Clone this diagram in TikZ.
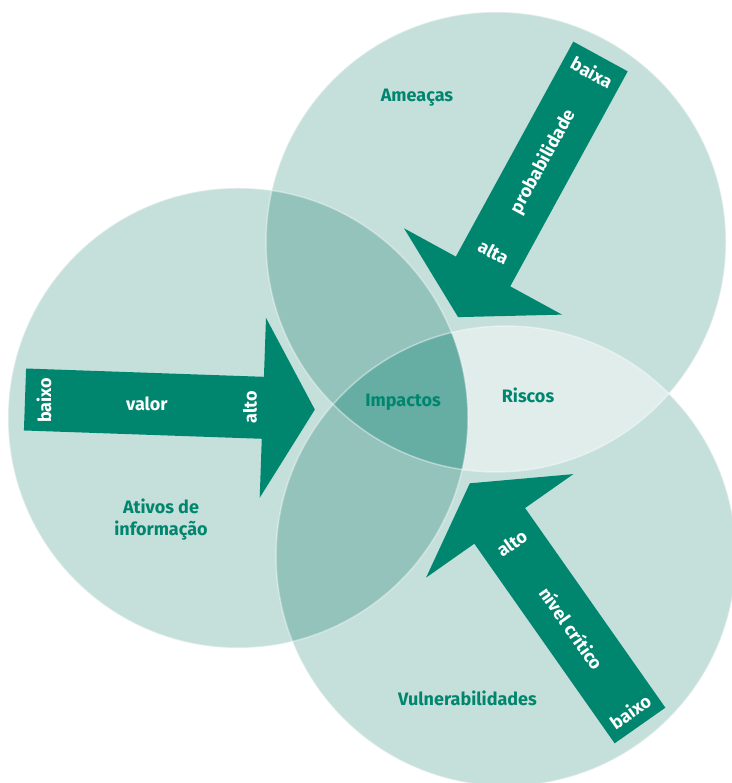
\documentclass[tikz,border=0pt]{standalone}
\usepackage{fontspec}
\setmainfont{Fira Sans}
\usetikzlibrary{positioning}
\definecolor{venn}{HTML}{C5DFDA}
\definecolor{venndark}{HTML}{94C3BC}
\definecolor{venncore}{HTML}{66ADA3}
\definecolor{vennlight}{HTML}{E0EDEB}
\definecolor{arrowgreen}{HTML}{00866F}
\tikzset{
    arrowtext/.style={text=white, font=\bfseries\fontsize{18}{22}\selectfont, inner sep=0pt},
    circletext/.style={text=arrowgreen, font=\bfseries\fontsize{18}{22}\selectfont, align=center, inner sep=0pt}
}

\begin{document}
\begin{tikzpicture}[x=1pt,y=1pt]
        \useasboundingbox (0,0) rectangle (731,783);

        % Circle centres.
        \def\R{230}
        \coordinate (ativos) at (238,365);
        \coordinate (ameacas) at (496,541);
        \coordinate (vulner) at (506,227);

        % Draw circles.
        \foreach \c in {ativos,ameacas,vulner}
            \fill[venn] (\c) circle (\R);

        % Draw overlaps.
        \begin{scope}
            \clip (ativos) circle (\R);
            \fill[venndark] (ameacas) circle (\R);
            \fill[venndark] (vulner) circle (\R);
        \end{scope}
        \begin{scope}
            \clip (ameacas) circle (\R);
            \fill[vennlight] (vulner) circle (\R);
            \clip (ativos) circle (\R);
            \fill[venncore] (vulner) circle (\R);
        \end{scope}

        % Draw circle outlines.
        \foreach \c in {ativos,ameacas,vulner}
            \draw[white, opacity=.4, line width=1.5pt] (\c) circle (\R);

        % Draw arrows.
        \foreach \x/\y/\a/\l in {25/383.5/-2/238, 600.5/726.5/241.35/245, 640/57.5/125.1/244}
            \fill[arrowgreen, shift={(\x,\y)}, rotate=\a]
                (0,-31) -- (\l,-31) -- (\l,-90) -- (\l+52,0) -- (\l,90) -- (\l,31) -- (0,31) -- cycle;

        % Label arrows.
        \begin{scope}[shift={(25,383.5)}, rotate=-2]
            \node[arrowtext, rotate=90] (valorlow) at (19,0) {baixo};
            \node[arrowtext] (valor) at (122,0) {valor};
            \node[arrowtext, rotate=90] (valorhigh) at (225,0) {alto};
        \end{scope}
        \begin{scope}[shift={(600.5,726.5)}, rotate=241.35]
            \node[arrowtext, rotate=-28.65] (problow) at (18,0) {baixa};
            \node[arrowtext, rotate=61.35] (prob) at (120,0) {probabilidade};
            \node[arrowtext, rotate=-28.65] (probhigh) at (223,0) {alta};
        \end{scope}
        \begin{scope}[shift={(640,57.5)}, rotate=125.1]
            \node[arrowtext, rotate=35.1] (nivellow) at (17,0) {baixo};
            \node[arrowtext, rotate=-54.9] (nivel) at (119,0) {nível crítico};
            \node[arrowtext, rotate=35.1] (nivelhigh) at (223,0) {alto};
        \end{scope}

        % Label circles.
        \node[circletext, anchor=base] (ameacaslbl) at (417,681) {Ameaças};
        \node[circletext, anchor=base] (vulnerlbl) at (467.5,77) {Vulnerabilidades};
        \node[circletext] (ativoslbl) at (161,263) {Ativos de\\informação};
        \node[circletext, anchor=base] (impactos) at (403,376) {Impactos};
        \node[circletext, anchor=base] (riscos) at (528,380) {Riscos};
    \end{tikzpicture}
\end{document}
